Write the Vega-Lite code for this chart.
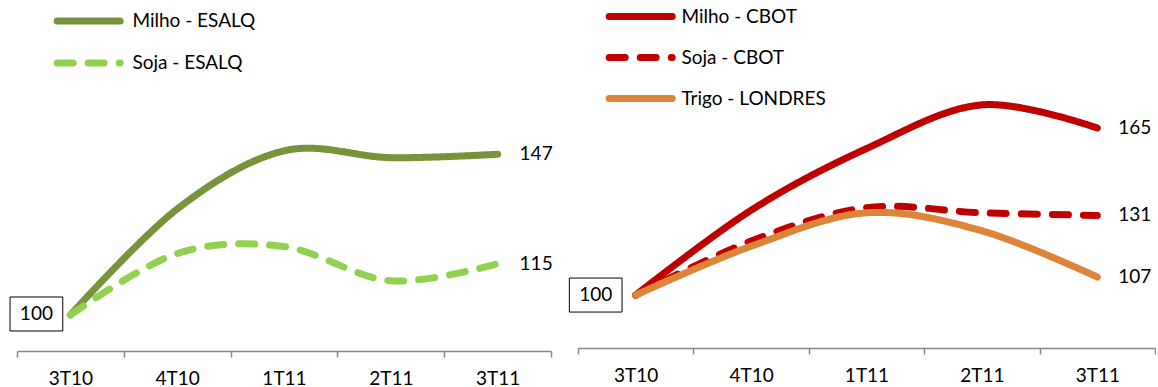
{
  "$schema": "https://vega.github.io/schema/vega-lite/v6.json",
  "background": "white",
  "padding": {"left": 8, "top": 0, "right": 0, "bottom": 0},
  "config": {
    "view": {"stroke": null},
    "font": "Lato",
    "axis": {
      "title": null,
      "grid": false,
      "labelFont": "Lato",
      "labelFontSize": 19,
      "labelColor": "black",
      "labelAngle": 0,
      "labelPadding": 12,
      "tickBand": "extent",
      "domainColor": "#878787",
      "domainWidth": 1.5,
      "tickColor": "#878787",
      "tickWidth": 1.5,
      "tickSize": 6
    },
    "legend": {
      "title": null,
      "orient": "none",
      "padding": 0,
      "symbolType": "M-5,0L5,0",
      "symbolSize": 158.76,
      "symbolStrokeWidth": 7,
      "labelFont": "Lato",
      "labelFontSize": 19,
      "labelColor": "black"
    }
  },
  "datasets": {
    "esalq": [
      {"trimestre": "3T10", "serie": "Milho - ESALQ", "indice": 100},
      {"trimestre": "4T10", "serie": "Milho - ESALQ", "indice": 131},
      {"trimestre": "1T11", "serie": "Milho - ESALQ", "indice": 148},
      {"trimestre": "2T11", "serie": "Milho - ESALQ", "indice": 146},
      {"trimestre": "3T11", "serie": "Milho - ESALQ", "indice": 147},
      {"trimestre": "3T10", "serie": "Soja - ESALQ", "indice": 100},
      {"trimestre": "4T10", "serie": "Soja - ESALQ", "indice": 118},
      {"trimestre": "1T11", "serie": "Soja - ESALQ", "indice": 120},
      {"trimestre": "2T11", "serie": "Soja - ESALQ", "indice": 110},
      {"trimestre": "3T11", "serie": "Soja - ESALQ", "indice": 115}
    ],
    "externo": [
      {"trimestre": "3T10", "serie": "Milho - CBOT", "indice": 100},
      {"trimestre": "4T10", "serie": "Milho - CBOT", "indice": 133},
      {"trimestre": "1T11", "serie": "Milho - CBOT", "indice": 157},
      {"trimestre": "2T11", "serie": "Milho - CBOT", "indice": 174},
      {"trimestre": "3T11", "serie": "Milho - CBOT", "indice": 165},
      {"trimestre": "3T10", "serie": "Soja - CBOT", "indice": 100},
      {"trimestre": "4T10", "serie": "Soja - CBOT", "indice": 121},
      {"trimestre": "1T11", "serie": "Soja - CBOT", "indice": 134},
      {"trimestre": "2T11", "serie": "Soja - CBOT", "indice": 132},
      {"trimestre": "3T11", "serie": "Soja - CBOT", "indice": 131},
      {"trimestre": "3T10", "serie": "Trigo - LONDRES", "indice": 100},
      {"trimestre": "4T10", "serie": "Trigo - LONDRES", "indice": 119},
      {"trimestre": "1T11", "serie": "Trigo - LONDRES", "indice": 132},
      {"trimestre": "2T11", "serie": "Trigo - LONDRES", "indice": 125},
      {"trimestre": "3T11", "serie": "Trigo - LONDRES", "indice": 107}
    ]
  },
  "spacing": 27,
  "bounds": "flush",
  "resolve": {
    "scale": {"x": "independent", "y": "independent", "color": "independent", "strokeDash": "independent"},
    "legend": {"color": "independent", "strokeDash": "independent"}
  },
  "hconcat": [
    {
      "width": 534,
      "height": 351,
      "data": {"name": "esalq"},
      "encoding": {
        "x": {
          "field": "trimestre", "type": "ordinal", "bandPosition": 0.5,
          "sort": ["3T10", "4T10", "1T11", "2T11", "3T11"],
          "scale": {"type": "band", "paddingInner": 0, "paddingOuter": 0}
        },
        "y": {
          "field": "indice", "type": "quantitative",
          "scale": {"domain": [89.47, 192.11], "zero": false, "nice": false},
          "axis": null
        }
      },
      "layer": [
        {
          "mark": {"type": "line", "interpolate": "cardinal", "strokeWidth": 7, "strokeCap": "round", "strokeJoin": "round"},
          "encoding": {
            "color": {
              "field": "serie", "type": "nominal",
              "scale": {"domain": ["Milho - ESALQ", "Soja - ESALQ"], "range": ["#77933C", "#92D050"]},
              "legend": {"legendX": 61.7, "legendY": 11, "labelOffset": 33.7, "rowPadding": 14, "encode": {"symbols": {"update": {"strokeCap": {"value": "round"}}}}}
            },
            "strokeDash": {
              "field": "serie", "type": "nominal",
              "scale": {"domain": ["Milho - ESALQ", "Soja - ESALQ"], "range": [[1, 0], [16, 15]]},
              "legend": {"legendX": 61.7, "legendY": 11, "labelOffset": 33.7, "rowPadding": 14, "encode": {"symbols": {"update": {"strokeCap": {"value": "round"}}}}}
            }
          }
        },
        {
          "transform": [{"filter": "datum.trimestre === '3T11'"}],
          "mark": {"type": "text", "align": "left", "baseline": "middle", "dx": 22, "fontSize": 19, "font": "Lato", "color": "black"},
          "encoding": {"text": {"field": "indice", "type": "quantitative"}}
        },
        {
          "transform": [{"filter": "datum.trimestre === '3T10' && datum.serie === 'Milho - ESALQ'"}],
          "mark": {"type": "point", "shape": "M-1.55,-1H1.55V1H-1.55Z", "size": 1156, "filled": true, "fill": "white", "stroke": "black", "strokeWidth": 1, "opacity": 1, "xOffset": -34, "yOffset": -1},
          "encoding": {}
        },
        {
          "transform": [{"filter": "datum.trimestre === '3T10' && datum.serie === 'Milho - ESALQ'"}],
          "mark": {"type": "text", "align": "center", "baseline": "middle", "fontSize": 19, "font": "Lato", "color": "black", "xOffset": -34, "yOffset": -1},
          "encoding": {"text": {"field": "indice", "type": "quantitative"}}
        }
      ]
    },
    {
      "width": 577,
      "height": 348,
      "data": {"name": "externo"},
      "encoding": {
        "x": {
          "field": "trimestre", "type": "ordinal", "bandPosition": 0.5,
          "sort": ["3T10", "4T10", "1T11", "2T11", "3T11"],
          "scale": {"type": "band", "paddingInner": 0, "paddingOuter": 0}
        },
        "y": {
          "field": "indice", "type": "quantitative",
          "scale": {"domain": [79.4, 214.8], "zero": false, "nice": false},
          "axis": null
        }
      },
      "layer": [
        {
          "mark": {"type": "line", "interpolate": "cardinal", "strokeWidth": 7, "strokeCap": "round", "strokeJoin": "round"},
          "encoding": {
            "color": {
              "field": "serie", "type": "nominal",
              "scale": {"domain": ["Milho - CBOT", "Soja - CBOT", "Trigo - LONDRES"], "range": ["#C00000", "#C00000", "#DE8439"]},
              "legend": {"legendX": 52.7, "legendY": 6.5, "labelOffset": 30.7, "rowPadding": 13, "encode": {"symbols": {"update": {"strokeCap": {"value": "round"}}}}}
            },
            "strokeDash": {
              "field": "serie", "type": "nominal",
              "scale": {"domain": ["Milho - CBOT", "Soja - CBOT", "Trigo - LONDRES"], "range": [[1, 0], [16, 15], [1, 0]]},
              "legend": {"legendX": 52.7, "legendY": 6.5, "labelOffset": 30.7, "rowPadding": 13, "encode": {"symbols": {"update": {"strokeCap": {"value": "round"}}}}}
            }
          }
        },
        {
          "transform": [{"filter": "datum.trimestre === '3T11'"}],
          "mark": {"type": "text", "align": "left", "baseline": "middle", "dx": 21, "fontSize": 19, "font": "Lato", "color": "black"},
          "encoding": {"text": {"field": "indice", "type": "quantitative"}}
        },
        {
          "transform": [{"filter": "datum.trimestre === '3T10' && datum.serie === 'Milho - CBOT'"}],
          "mark": {"type": "point", "shape": "M-1.55,-1H1.55V1H-1.55Z", "size": 1156, "filled": true, "fill": "white", "stroke": "black", "strokeWidth": 1, "opacity": 1, "xOffset": -40, "yOffset": 0},
          "encoding": {}
        },
        {
          "transform": [{"filter": "datum.trimestre === '3T10' && datum.serie === 'Milho - CBOT'"}],
          "mark": {"type": "text", "align": "center", "baseline": "middle", "fontSize": 19, "font": "Lato", "color": "black", "xOffset": -40, "yOffset": 0},
          "encoding": {"text": {"field": "indice", "type": "quantitative"}}
        }
      ]
    }
  ]
}
